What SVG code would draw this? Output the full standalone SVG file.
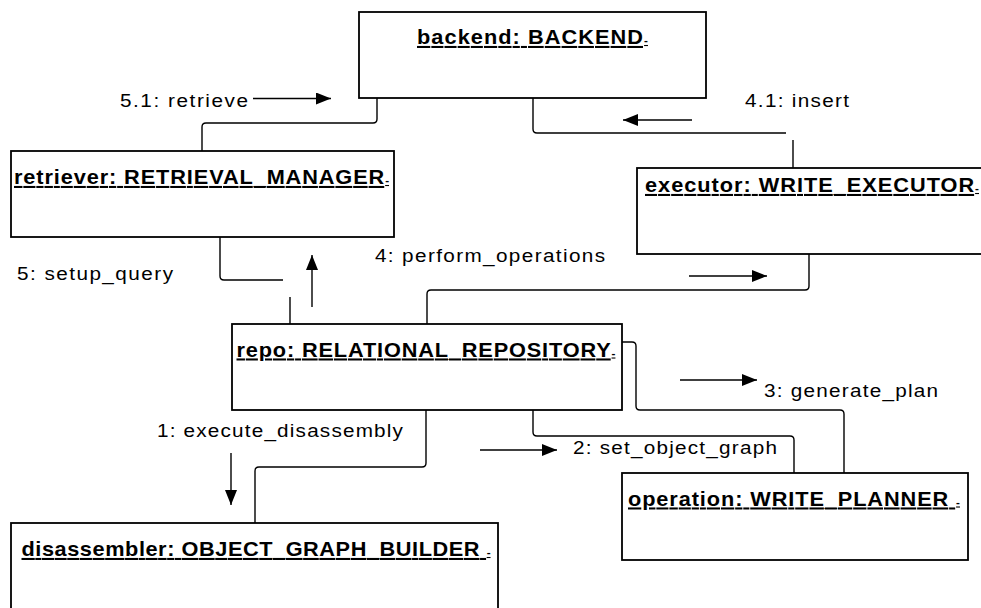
<svg xmlns="http://www.w3.org/2000/svg" width="981" height="608" viewBox="0 0 981 608">
  <style>
    .box { fill: #ffffff; stroke: #000000; stroke-width: 1.8; }
    .title { font-family: "Liberation Sans", Arial, sans-serif; font-size: 20.5px; font-weight: bold; fill: #000000; text-decoration: underline; }
    .tail { font-size: 11px; }
    .label { font-family: "Liberation Sans", Arial, sans-serif; font-size: 18.5px; fill: #000000; }
    .link { fill: none; stroke: #000000; stroke-width: 1.4; }
    .msg { fill: none; stroke: #000000; stroke-width: 1.4; marker-end: url(#head); }
  </style>
  <defs>
    <marker id="head" markerUnits="userSpaceOnUse" markerWidth="15" markerHeight="12" refX="15" refY="6" orient="auto">
      <path d="M0,0 L15,6 L0,12 z" fill="#000000"/>
    </marker>
  </defs>

  <rect width="981" height="608" fill="#ffffff"/>

  <!-- links between objects -->
  <g id="connectors">
    <path class="link" d="M377,98 V119 Q377,123 373,123 H206 Q202,123 202,127 V151"/>
    <path class="link" d="M533,98 V129 Q533,133 537,133 H786"/>
    <path class="link" d="M793,140 V168"/>
    <path class="link" d="M220,237 V276 Q220,280 224,280 H283"/>
    <path class="link" d="M290,297 V324"/>
    <path class="link" d="M427,324 V294 Q427,290 431,290 H805 Q809,290 809,286 V254"/>
    <path class="link" d="M426,410 V463 Q426,467 422,467 H259 Q255,467 255,471 V523"/>
    <path class="link" d="M533,410 V432 Q533,436 537,436 H790 Q794,436 794,440 V473"/>
    <path class="link" d="M622,342 H632 Q636,342 636,346 V406 Q636,410 640,410 H840 Q844,410 844,414 V473"/>

    <!-- message arrows -->
    <path class="msg" d="M253,98.5 H331"/>
    <path class="msg" d="M692,120 H623"/>
    <path class="msg" d="M312,307 V255"/>
    <path class="msg" d="M689,276 H767"/>
    <path class="msg" d="M231,453 V505"/>
    <path class="msg" d="M480,450 H557"/>
    <path class="msg" d="M680,380 H757"/>

    <!-- message labels (slightly widened lettering) -->
    <text class="label" transform="translate(120,106.5) scale(1.12,1)" textLength="114.3" lengthAdjust="spacing">5.1: retrieve</text>
    <text class="label" transform="translate(745,106.5) scale(1.12,1)" textLength="92.9" lengthAdjust="spacing">4.1: insert</text>
    <text class="label" transform="translate(17,279.5) scale(1.12,1)" textLength="139.3" lengthAdjust="spacing">5: setup_query</text>
    <text class="label" transform="translate(375,262) scale(1.12,1)" textLength="205.4" lengthAdjust="spacing">4: perform_operations</text>
    <text class="label" transform="translate(157,436.5) scale(1.12,1)" textLength="219.6" lengthAdjust="spacing">1: execute_disassembly</text>
    <text class="label" transform="translate(573,453.5) scale(1.12,1)" textLength="182.1" lengthAdjust="spacing">2: set_object_graph</text>
    <text class="label" transform="translate(764,396.5) scale(1.12,1)" textLength="155.4" lengthAdjust="spacing">3: generate_plan</text>
  </g>

  <!-- objects -->
  <g id="backend">
    <rect class="box" x="359" y="12" width="347" height="86"/>
    <text class="title" transform="translate(417,44) scale(1.06,1)" textLength="217.9" lengthAdjust="spacing">backend: BACKEND<tspan class="tail">-</tspan></text>
  </g>

  <g id="retriever">
    <rect class="box" x="11" y="151" width="383" height="86"/>
    <text class="title" transform="translate(14,184) scale(1.06,1)" textLength="353.8" lengthAdjust="spacing">retriever: RETRIEVAL_MANAGER<tspan class="tail">-</tspan></text>
  </g>

  <g id="executor">
    <rect class="box" x="637" y="168" width="350" height="86"/>
    <text class="title" transform="translate(645,192) scale(1.06,1)" textLength="315.1" lengthAdjust="spacing">executor: WRITE_EXECUTOR<tspan class="tail">-</tspan></text>
  </g>

  <g id="repo">
    <rect class="box" x="232" y="324" width="390" height="86"/>
    <text class="title" transform="translate(236.5,356.5) scale(1.06,1)" textLength="357.5" lengthAdjust="spacing">repo: RELATIONAL_REPOSITORY<tspan class="tail">-</tspan></text>
  </g>

  <g id="disassembler">
    <rect class="box" x="11" y="523" width="487" height="100"/>
    <text class="title" transform="translate(21.5,556) scale(1.06,1)" textLength="442.5" lengthAdjust="spacing">disassembler: OBJECT_GRAPH_BUILDER <tspan class="tail">-</tspan></text>
  </g>

  <g id="operation">
    <rect class="box" x="622" y="473" width="346" height="87"/>
    <text class="title" transform="translate(628,505.5) scale(1.06,1)" textLength="313.2" lengthAdjust="spacing">operation: WRITE_PLANNER <tspan class="tail">-</tspan></text>
  </g>
</svg>
